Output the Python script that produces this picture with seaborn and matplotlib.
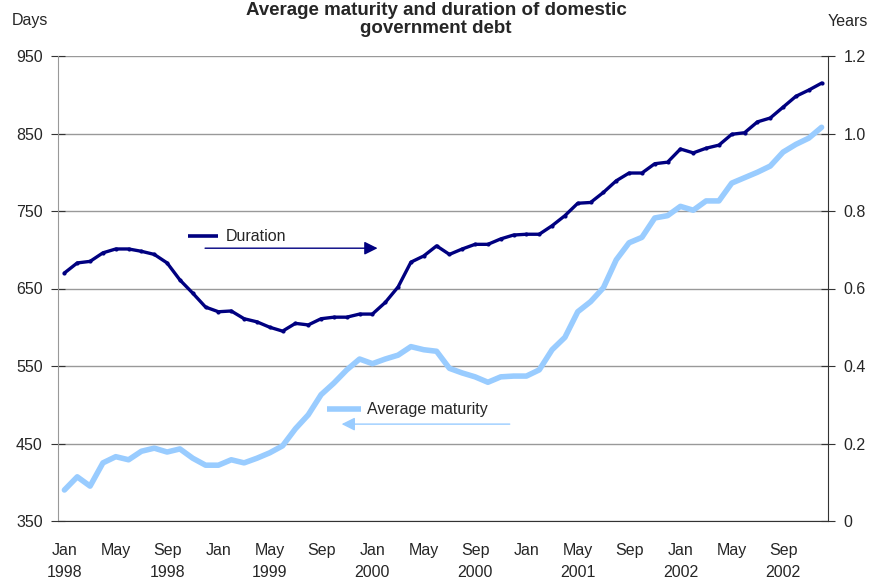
import numpy as np
import pandas as pd
import matplotlib
matplotlib.use("Agg")
import matplotlib.pyplot as plt
import seaborn as sns

# ---- data ----
months = pd.date_range("1998-01-01", "2002-12-01", freq="MS")
avg_maturity_days = [390, 407, 395, 425, 433, 429, 440, 444, 439, 443,
                     431, 422, 422, 429, 425, 431, 438, 447, 469, 487,
                     513, 528, 545, 559, 553, 559, 564, 575, 571, 569,
                     547, 541, 536, 529, 536, 537, 537, 545, 571, 587,
                     620, 633, 651, 687, 709, 716, 741, 744, 756, 751,
                     763, 763, 786, 793, 800, 808, 826, 836, 844, 858]
duration_years = [0.640, 0.666, 0.670, 0.692, 0.702, 0.702, 0.696, 0.688, 0.666, 0.622,
                  0.588, 0.552, 0.540, 0.542, 0.522, 0.514, 0.500, 0.490, 0.510, 0.506,
                  0.522, 0.526, 0.526, 0.534, 0.534, 0.564, 0.604, 0.668, 0.684, 0.710,
                  0.688, 0.702, 0.714, 0.714, 0.728, 0.738, 0.740, 0.740, 0.762, 0.788,
                  0.820, 0.822, 0.848, 0.878, 0.898, 0.898, 0.922, 0.926, 0.960, 0.950,
                  0.962, 0.970, 0.998, 1.002, 1.030, 1.040, 1.068, 1.096, 1.112, 1.130]
tick_labels = ["Jan\n1998", "May", "Sep\n1998", "Jan", "May\n1999", "Sep",
               "Jan\n2000", "May", "Sep\n2000", "Jan", "May\n2001", "Sep",
               "Jan\n2002", "May", "Sep\n2002"]
left_ticks = [350, 450, 550, 650, 750, 850, 950]
right_ticks = [0, 0.2, 0.4, 0.6, 0.8, 1.0, 1.2]
right_tick_labels = ["0", "0.2", "0.4", "0.6", "0.8", "1.0", "1.2"]

df = pd.DataFrame({"idx": np.arange(len(months)),
                   "maturity": avg_maturity_days,
                   "duration": duration_years})

sns.set_style("white")
plt.rcParams["font.family"] = ["Liberation Sans", "DejaVu Sans"]

NAVY = "#000080"
LBLUE = "#99CCFF"

fig = plt.figure(figsize=(8.72, 5.79), dpi=100)
ax = fig.add_axes([58/872, 1-521/579, (828-58)/872, (521-56)/579])
ax2 = ax.twinx()

sns.lineplot(data=df, x="idx", y="maturity", ax=ax, color=LBLUE, lw=4.0, zorder=3)
sns.lineplot(data=df, x="idx", y="duration", ax=ax2, color=NAVY, lw=2.4,
             marker="o", markersize=3, markeredgewidth=0, zorder=3)

ax.set_xlim(-0.5, 59.5)
ax.set_ylim(350, 950)
ax2.set_ylim(0, 1.2)
ax.set_xlabel("")
ax.set_ylabel("")
ax2.set_ylabel("")

ax.set_yticks(left_ticks)
ax.set_yticklabels([str(t) for t in left_ticks])
ax2.set_yticks(right_ticks)
ax2.set_yticklabels(right_tick_labels)

ax.set_xticks(np.arange(-0.5, 60, 4))
ax.set_xticklabels([])
ax.set_xticks(np.arange(0, 60, 4), minor=True)
ax.set_xticklabels(tick_labels, minor=True)
ax.tick_params(axis="x", which="major", direction="inout", length=8, width=0.8, color="#333333")
ax.tick_params(axis="x", which="minor", length=0, pad=16, labelsize=11.5)
ax.tick_params(axis="y", direction="inout", length=10, width=0.8, color="#333333",
               labelsize=11.5, pad=6)
ax2.tick_params(axis="y", direction="inout", length=10, width=0.8, color="#333333",
                labelsize=11.5, pad=6)

for t in ax.get_xticklabels(minor=True):
    t.set_linespacing(1.6)
    t.set_verticalalignment("top")

ax.grid(axis="y", color="#999999", lw=1.0)
ax.set_axisbelow(True)
for a in (ax, ax2):
    a.spines["top"].set_visible(False)
ax.spines["left"].set_color("#999999")
ax2.spines["left"].set_visible(False)
ax.spines["bottom"].set_color("#333333")
ax2.spines["bottom"].set_visible(False)
ax2.spines["right"].set_color("#333333")
ax.spines["right"].set_visible(False)

# annotations (in left-axis data coordinates)
ax.plot([9.63, 11.97], [717.5, 717.5], color=NAVY, lw=2.6, solid_capstyle="butt")
ax.text(12.6, 717.5, "Duration", fontsize=11.5, va="center", ha="left")
ax.annotate("", xy=(24.4, 702), xytext=(10.96, 702),
            arrowprops=dict(arrowstyle="-|>,head_length=0.8,head_width=0.4",
                            color=NAVY, lw=1.0, shrinkA=0, shrinkB=0))
ax.plot([20.46, 23.1], [494.5, 494.5], color=LBLUE, lw=4.0, solid_capstyle="butt")
ax.text(23.6, 494.5, "Average maturity", fontsize=11.5, va="center", ha="left")
ax.annotate("", xy=(21.6, 475), xytext=(34.7, 475),
            arrowprops=dict(arrowstyle="-|>,head_length=0.8,head_width=0.4",
                            color=LBLUE, lw=1.0, shrinkA=0, shrinkB=0))

fig.text(12/872, 1-21/579, "Days", fontsize=11.5, ha="left", va="center")
fig.text(868/872, 1-21/579, "Years", fontsize=11.5, ha="right", va="center")
fig.text(0.5, 1-2/579, "Average maturity and duration of domestic\ngovernment debt",
         fontsize=13.5, fontweight="bold", ha="center", va="top", linespacing=1.1)

fig.savefig("out.png", dpi=100, facecolor="white")
